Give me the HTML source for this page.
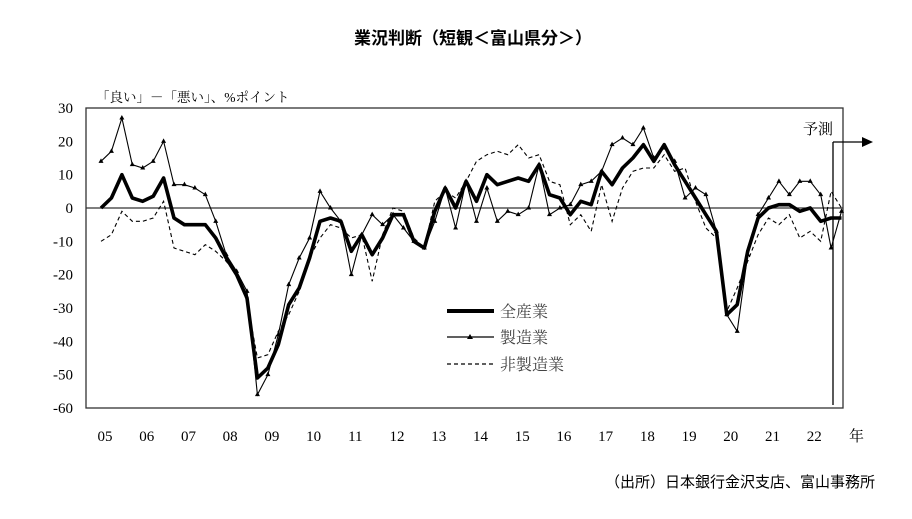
<!DOCTYPE html>
<html lang="ja">
<head>
<meta charset="utf-8">
<style>
  html,body{margin:0;padding:0;background:#fff;}
  body{width:912px;height:514px;overflow:hidden;}
  svg text{font-family:"Liberation Serif","Noto Serif CJK SC","Noto Sans CJK JP",serif;}
</style>
</head>
<body>
<svg id="chart" width="912" height="514" viewBox="0 0 912 514" xmlns="http://www.w3.org/2000/svg">
  <text x="473" y="44" text-anchor="middle" font-size="17" font-weight="bold" style="font-family:'Liberation Sans','Noto Sans CJK JP',sans-serif">業況判断（短観＜富山県分＞）</text>
  <text x="96" y="102" font-size="13.5">「良い」－「悪い」、%ポイント</text>
  <rect x="86" y="108" width="757" height="300" fill="none" stroke="#333" stroke-width="1.3"/>
  <g id="yticks"></g>
  <g id="xticks"></g>
  <line id="zeroline" stroke="#333" stroke-width="1.3"/>
  <g id="series"></g>
  <g>
    <line x1="833" y1="142" x2="833" y2="405" stroke="#000" stroke-width="1.3"/>
    <line x1="833" y1="142" x2="864" y2="142" stroke="#000" stroke-width="1.3"/>
    <polygon points="873,142 862,137 862,147" fill="#000"/>
    <text x="818" y="134" text-anchor="middle" font-size="15">予測</text>
  </g>
  <g>
    <g>
      <line x1="447" y1="311" x2="494" y2="311" stroke="#000" stroke-width="4"/>
      <text x="500" y="317" font-size="16" fill="#444">全産業</text>
    </g>
    <g>
      <line x1="447" y1="337" x2="494" y2="337" stroke="#000" stroke-width="1.2"/>
      <polygon points="470,334 467,339 473,339" fill="#000"/>
      <text x="500" y="343" font-size="16" fill="#444">製造業</text>
    </g>
    <g>
      <line x1="447" y1="364" x2="494" y2="364" stroke="#000" stroke-width="1.2" stroke-dasharray="4,3"/>
      <text x="500" y="370" font-size="16" fill="#444">非製造業</text>
    </g>
  </g>
  <text x="875" y="487" text-anchor="end" font-size="15" style="font-family:'Liberation Sans','Noto Sans CJK JP',sans-serif">（出所）日本銀行金沢支店、富山事務所</text>
</svg>
<script>
const years = ["05","06","07","08","09","10","11","12","13","14","15","16","17","18","19","20","21","22"];
const yTicks = [30,20,10,0,-10,-20,-30,-40,-50,-60];
const allIndustry = [0,3,10,3,2,3.5,9,-3,-5,-5,-5,-9,-15,-20,-27,-51,-48,-41,-29,-24,-15,-4,-3,-4,-13,-8,-14,-9,-2,-2,-10,-12,-1,6,0,8,2,10,7,8,9,8,13,4,3,-2,2,1,11,7,12,15,19,14,19,13,8,3,-2,-7,-32,-29,-13,-3,0,1,1,-1,0,-4,-3,-3];
const manufacturing = [14,17,27,13,12,14,20,7,7,6,4,-4,-14,-19,-25,-56,-50,-38,-23,-15,-9,5,0,-4,-20,-8,-2,-5,-2,-6,-10,-12,-4,6,-6,8,-4,6,-4,-1,-2,0,13,-2,0,1,7,8,11,19,21,19,24,15,18,14,3,6,4,-7,-32,-37,-14,-2,3,8,4,8,8,4,-12,-1];
const nonManufacturing = [-10,-8,-1,-4,-4,-3,2,-12,-13,-14,-11,-13,-16,-20,-28,-45,-44,-37,-32,-25,-15,-9,-5,-6,-9,-8,-22,-8,0,-1,-9,-12,2,5,3,8,14,16,17,16,19,15,16,8,7,-5,-2,-7,7,-4,6,11,12,12,16,11,12,2,-6,-9,-31,-24,-16,-8,-3,-5,-2,-9,-7,-10,5,0];

const NS="http://www.w3.org/2000/svg";
const x0=101, dx=10.43, yTop=108, yBot=408, vMax=30, vMin=-60;
function xs(i){return x0+dx*i;}
function ys(v){return yTop+(vMax-v)*(yBot-yTop)/(vMax-vMin);}
function mk(tag,attrs,parent){const e=document.createElementNS(NS,tag);for(const k in attrs)e.setAttribute(k,attrs[k]);parent.appendChild(e);return e;}

const yg=document.getElementById('yticks');
yTicks.forEach(v=>{
  const t=mk('text',{x:73,y:ys(v)+5,'text-anchor':'end','font-size':15},yg);
  
  
  t.textContent=v;
});
const xg=document.getElementById('xticks');
years.forEach((yr,k)=>{
  const t=mk('text',{x:xs(4*k)+4,y:441,'text-anchor':'middle','font-size':15},xg);
  
  
  t.textContent=yr;
});
const yl=mk('text',{x:849,y:441,'font-size':15},xg);


yl.textContent='年';

const z=document.getElementById('zeroline');
z.setAttribute('x1',86);z.setAttribute('x2',843);z.setAttribute('y1',ys(0));z.setAttribute('y2',ys(0));

const sg=document.getElementById('series');
function pts(arr){return arr.map((v,i)=>xs(i).toFixed(1)+','+ys(v).toFixed(1)).join(' ');}
const pn=mk('polyline',{points:pts(nonManufacturing),fill:'none',stroke:'#000','stroke-width':1.1,'stroke-dasharray':'4,3'},sg);


const pm=mk('polyline',{points:pts(manufacturing),fill:'none',stroke:'#000','stroke-width':1.1},sg);


manufacturing.forEach((v,i)=>{
  const x=xs(i),y=ys(v);
  const m=mk('polygon',{points:`${x},${y-3} ${x-2.5},${y+1.5} ${x+2.5},${y+1.5}`,fill:'#000'},sg);
  
  
});
const pa=mk('polyline',{points:pts(allIndustry),fill:'none',stroke:'#000','stroke-width':3.6,'stroke-linejoin':'round'},sg);


</script>
</body>
</html>
